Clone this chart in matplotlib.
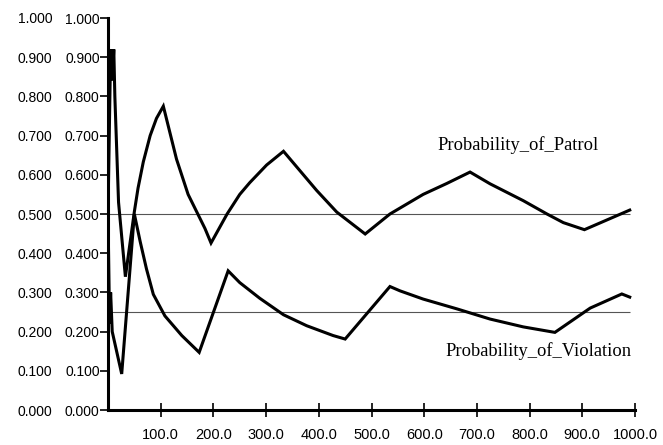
import matplotlib
matplotlib.use("Agg")
import matplotlib.pyplot as plt
from matplotlib.ticker import FixedLocator, FormatStrFormatter

# time points and values
patrol_t = [0, 5, 8, 11, 13, 20, 33, 50, 57, 67, 80, 92, 105, 130, 152, 184, 195.5,
            226, 250, 269, 301, 333, 396, 434, 488, 535, 598, 643, 687,
            725, 788, 833, 864, 904, 990]
patrol_p = [0.50, 0.92, 0.84, 0.92, 0.80, 0.53, 0.34, 0.506, 0.566, 0.633, 0.70, 0.744, 0.775, 0.64, 0.55, 0.463, 0.426,
            0.50, 0.55, 0.58, 0.625, 0.66, 0.56, 0.505, 0.449, 0.50, 0.55, 0.578, 0.607,
            0.577, 0.534, 0.50, 0.478, 0.46, 0.51]

viol_t = [0, 3, 5, 8, 26, 50, 61, 73, 86, 108, 140, 173, 228, 250, 269, 288, 333, 377, 427, 450,
          535, 554, 598, 662, 725, 788, 848, 915, 975, 990]
viol_p = [0.50, 0.22, 0.30, 0.20, 0.092, 0.50, 0.43, 0.36, 0.295, 0.24, 0.19, 0.147, 0.355, 0.325, 0.305, 0.285, 0.243, 0.215, 0.19, 0.181,
          0.315, 0.304, 0.283, 0.258, 0.232, 0.212, 0.198, 0.26, 0.296, 0.288]

ref_levels = [0.5, 0.25]
x_ticks = [100, 200, 300, 400, 500, 600, 700, 800, 900, 1000]
y_ticks = [0.0, 0.1, 0.2, 0.3, 0.4, 0.5, 0.6, 0.7, 0.8, 0.9, 1.0]

fig = plt.figure(figsize=(6.63, 4.45), dpi=100)
ax = fig.add_axes([108 / 663, 1 - 410 / 445, 527 / 663, 392 / 445])

for lvl in ref_levels:
    ax.hlines(lvl, 0, 990, colors="#555555", linewidth=0.8)

ax.plot(patrol_t, patrol_p, color="black", linewidth=2.2, solid_joinstyle="miter")
ax.plot(viol_t, viol_p, color="black", linewidth=2.2, solid_joinstyle="miter")

ax.text(626, 0.675, "Probability_of_Patrol", family="Liberation Serif", fontsize=13.3, va="center")
ax.text(640, 0.151, "Probability_of_Violation", family="Liberation Serif", fontsize=13.3, va="center")

ax.set_xlim(0, 1000)
ax.set_ylim(0, 1.0)
for s in ["top", "right"]:
    ax.spines[s].set_visible(False)
for s in ["left", "bottom"]:
    ax.spines[s].set_linewidth(2.2)

ax.xaxis.set_major_locator(FixedLocator(x_ticks))
ax.xaxis.set_major_formatter(FormatStrFormatter("%.1f"))
ax.yaxis.set_major_locator(FixedLocator(y_ticks))
ax.yaxis.set_major_formatter(FormatStrFormatter("%.3f"))
ax.tick_params(axis="x", direction="inout", length=10, width=1.2, pad=8,
               labelsize=10.5, labelfontfamily="Liberation Sans")
ax.tick_params(axis="y", direction="out", length=6, width=1.2, pad=0,
               labelsize=10, labelfontfamily="Liberation Sans")

# second column of y labels
ax2 = ax.secondary_yaxis(-0.106)
ax2.spines["left"].set_visible(False)
ax2.yaxis.set_major_locator(FixedLocator(y_ticks))
ax2.yaxis.set_major_formatter(FormatStrFormatter("%.3f"))
ax2.tick_params(axis="y", length=0, pad=0, labelsize=10, labelfontfamily="Liberation Sans")

fig.savefig("out.png", dpi=100)
